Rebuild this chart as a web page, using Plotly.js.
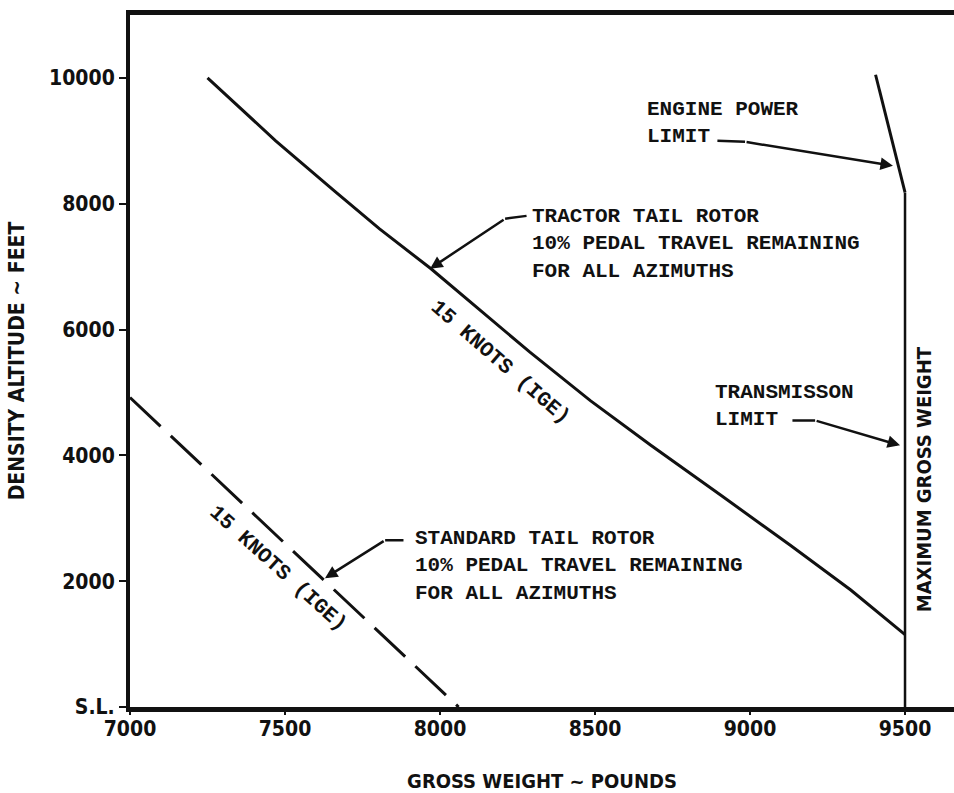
<!DOCTYPE html>
<html>
<head>
<meta charset="utf-8">
<script src="https://cdn.plot.ly/plotly-3.0.1.min.js"></script>
<style>html,body{margin:0;padding:0;background:#fff;}#chart{width:954px;height:793px;}</style>
</head>
<body>
<div id="chart"></div>
<script>
// ---- data ----
const xTickVals = [7000, 7500, 8000, 8500, 9000, 9500];
const xTickText = ['7000', '7500', '8000', '8500', '9000', '9500'];
const yTickVals = [0, 2000, 4000, 6000, 8000, 10000];
const yTickText = ['S.L.', '2000', '4000', '6000', '8000', '10000'];

// Tractor tail rotor, 15 knots (IGE)
const tractorX = [7250, 7470, 7660, 7805, 7970, 8130, 8290, 8485, 8680, 8905, 9130, 9325, 9500];
const tractorY = [10000, 9000, 8200, 7600, 6970, 6300, 5640, 4870, 4160, 3370, 2570, 1860, 1150];

// Standard tail rotor, 15 knots (IGE) (dashed)
const standardX = [7000, 8060];
const standardY = [4920, 0];

// Engine power limit
const engineX = [9405, 9500];
const engineY = [10050, 8180];

// Maximum gross weight
const maxGrossX = [9500, 9500];
const maxGrossY = [8180, 0];

const monoFont = {family: 'Liberation Mono, DejaVu Sans Mono, monospace', size: 21, color: '#111', weight: 700};
const condFont = {family: 'Liberation Sans Narrow, DejaVu Sans Condensed, Arial Narrow, sans-serif', size: 20, color: '#111', weight: 700};

const line = (x, y, w, dash) => ({
  x: x, y: y, type: 'scatter', mode: 'lines', hoverinfo: 'skip', showlegend: false,
  line: {color: '#111', width: w, dash: dash || 'solid'}
});

const traces = [
  line(tractorX, tractorY, 3),
  line(standardX, standardY, 3, '42px,14px'),
  line(engineX, engineY, 3),
  line(maxGrossX, maxGrossY, 2.5)
];

const txt = (x, y, text, extra) => Object.assign({
  x: x, y: y, xref: 'x', yref: 'y', text: text, showarrow: false,
  xanchor: 'left', yanchor: 'middle', align: 'left', font: monoFont
}, extra || {});

const arrow = (hx, hy, tx, ty, head) => ({
  x: hx, y: hy, ax: tx, ay: ty, xref: 'x', yref: 'y', axref: 'x', ayref: 'y',
  text: '', showarrow: true, arrowhead: head, arrowsize: 1, arrowwidth: 2.5, arrowcolor: '#111',
  standoff: 0, startstandoff: 0
});

const annotations = [
  txt(8661, 9286, 'ENGINE POWER<br>LIMIT'),
  arrow(8984, 8984, 8890, 9000, 0),
  arrow(9461, 8603, 8984, 8984, 2),

  txt(8290, 7365, 'TRACTOR TAIL ROTOR<br>10% PEDAL TRAVEL REMAINING<br>FOR ALL AZIMUTHS'),
  arrow(8210, 7762, 8284, 7810, 0),
  arrow(7968, 6968, 8210, 7762, 2),

  txt(8881, 4778, 'TRANSMISSON<br>LIMIT'),
  arrow(9210, 4556, 9132, 4556, 0),
  arrow(9484, 4159, 9210, 4556, 2),

  txt(7913, 2238, 'STANDARD TAIL ROTOR<br>10% PEDAL TRAVEL REMAINING<br>FOR ALL AZIMUTHS'),
  arrow(7823, 2651, 7887, 2651, 0),
  arrow(7629, 2048, 7823, 2651, 2),

  txt(8194, 5476, '15 KNOTS (IGE)', {xanchor: 'center', textangle: 41}),
  txt(7477, 2206, '15 KNOTS (IGE)', {xanchor: 'center', textangle: 42}),

  txt(9561, 3619, 'MAXIMUM GROSS WEIGHT', {xanchor: 'center', textangle: -90, font: condFont})
];

const layout = {
  width: 954, height: 793,
  margin: {l: 130, r: 0, t: 15, b: 86},
  paper_bgcolor: '#fff', plot_bgcolor: '#fff',
  showlegend: false,
  xaxis: {
    range: [7000, 9658], tickvals: xTickVals, ticktext: xTickText,
    showgrid: false, zeroline: false,
    showline: true, linewidth: 5, linecolor: '#111', mirror: true,
    ticks: 'outside', ticklen: 3, tickwidth: 2, tickcolor: '#111',
    ticklabelstandoff: -4,
    tickfont: {family: condFont.family, size: 21, color: '#111', weight: 700},
    title: {text: 'GROSS WEIGHT ~ POUNDS', font: {family: condFont.family, size: 20, color: '#111', weight: 700}, standoff: 36},
    fixedrange: true
  },
  yaxis: {
    range: [0, 11000], tickvals: yTickVals, ticktext: yTickText,
    showgrid: false, zeroline: false,
    showline: true, linewidth: 4, linecolor: '#111', mirror: false,
    ticks: 'outside', ticklen: 7, tickwidth: 2, tickcolor: '#111',
    tickfont: {family: condFont.family, size: 21, color: '#111', weight: 700},
    title: {text: 'DENSITY ALTITUDE ~ FEET', font: {family: condFont.family, size: 21, color: '#111', weight: 700}, standoff: 20},
    fixedrange: true
  },
  annotations: annotations
};

Plotly.newPlot('chart', traces, layout, {displayModeBar: false, staticPlot: true});
</script>
</body>
</html>
